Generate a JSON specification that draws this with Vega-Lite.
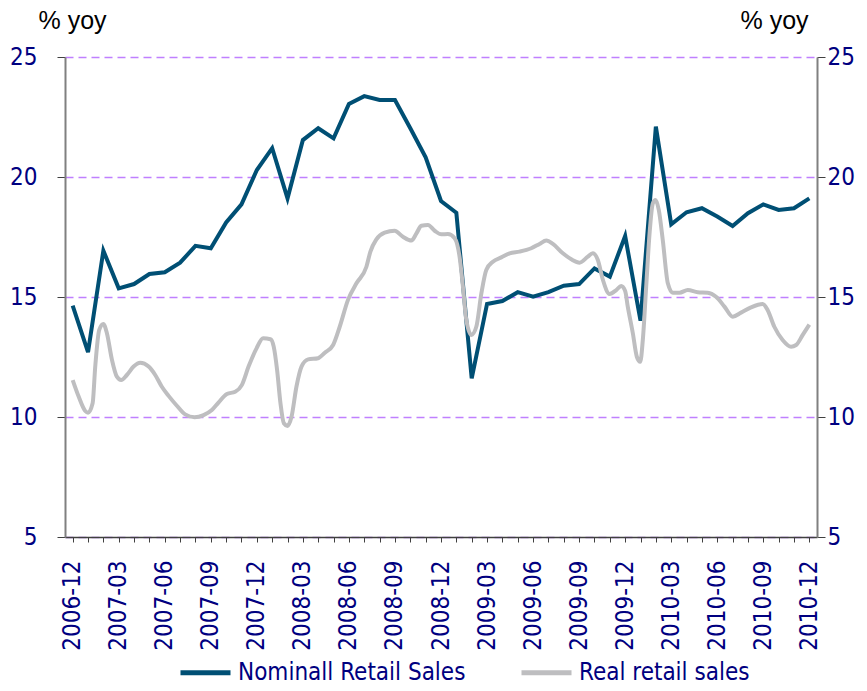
{
  "$schema": "https://vega.github.io/schema/vega-lite/v6.json",
  "width": 752,
  "height": 480,
  "autosize": {"type": "none"},
  "padding": {"left": 65, "top": 57, "right": 50, "bottom": 154},
  "background": "white",
  "config": {
    "view": {"stroke": null},
    "font": "DejaVu Sans Condensed, DejaVu Sans",
    "axis": {"labelFont": "DejaVu Sans Condensed, DejaVu Sans", "titleFont": "Liberation Sans", "gridColor": "#C080FF"},
    "axisY": {"gridColor": "#C080FF", "gridDash": [8, 5], "gridOpacity": 1}
  },
  "datasets": {
    "nominal": [
      {"i": 0, "value": 14.64}, {"i": 1, "value": 12.70}, {"i": 2, "value": 16.93}, {"i": 3, "value": 15.36},
      {"i": 4, "value": 15.54}, {"i": 5, "value": 15.96}, {"i": 6, "value": 16.03}, {"i": 7, "value": 16.43},
      {"i": 8, "value": 17.13}, {"i": 9, "value": 17.03}, {"i": 10, "value": 18.11}, {"i": 11, "value": 18.86},
      {"i": 12, "value": 20.29}, {"i": 13, "value": 21.20}, {"i": 14, "value": 19.11}, {"i": 15, "value": 21.54},
      {"i": 16, "value": 22.03}, {"i": 17, "value": 21.61}, {"i": 18, "value": 23.04}, {"i": 19, "value": 23.37},
      {"i": 20, "value": 23.21}, {"i": 21, "value": 23.21}, {"i": 22, "value": 22.03}, {"i": 23, "value": 20.82},
      {"i": 24, "value": 19.0}, {"i": 25, "value": 18.51}, {"i": 26, "value": 11.61}, {"i": 27, "value": 14.71},
      {"i": 28, "value": 14.83}, {"i": 29, "value": 15.20}, {"i": 30, "value": 15.01}, {"i": 31, "value": 15.20},
      {"i": 32, "value": 15.47}, {"i": 33, "value": 15.54}, {"i": 34, "value": 16.19}, {"i": 35, "value": 15.85},
      {"i": 36, "value": 17.54}, {"i": 37, "value": 14.01}, {"i": 38, "value": 22.10}, {"i": 39, "value": 18.03},
      {"i": 40, "value": 18.53}, {"i": 41, "value": 18.70}, {"i": 42, "value": 18.35}, {"i": 43, "value": 17.96},
      {"i": 44, "value": 18.49}, {"i": 45, "value": 18.86}, {"i": 46, "value": 18.63}, {"i": 47, "value": 18.70},
      {"i": 48, "value": 19.11}
    ],
    "real": [
      {"i": 0, "value": 11.54}, {"i": 0.39, "value": 10.85}, {"i": 0.82, "value": 10.25}, {"i": 1.0, "value": 10.18},
      {"i": 1.3, "value": 10.57}, {"i": 1.47, "value": 12.10}, {"i": 1.73, "value": 13.63}, {"i": 2.0, "value": 13.88},
      {"i": 2.23, "value": 13.49}, {"i": 2.56, "value": 12.38}, {"i": 2.88, "value": 11.68}, {"i": 3.16, "value": 11.54},
      {"i": 3.53, "value": 11.75}, {"i": 3.97, "value": 12.10}, {"i": 4.40, "value": 12.26}, {"i": 4.95, "value": 12.10},
      {"i": 5.38, "value": 11.75}, {"i": 5.81, "value": 11.26}, {"i": 6.25, "value": 10.88}, {"i": 6.79, "value": 10.47},
      {"i": 7.33, "value": 10.11}, {"i": 7.94, "value": 9.99}, {"i": 8.53, "value": 10.08}, {"i": 9.07, "value": 10.29},
      {"i": 9.50, "value": 10.60}, {"i": 10.05, "value": 10.96}, {"i": 10.59, "value": 11.05}, {"i": 11.02, "value": 11.33},
      {"i": 11.46, "value": 12.10}, {"i": 11.98, "value": 12.86}, {"i": 12.41, "value": 13.28}, {"i": 12.89, "value": 13.24},
      {"i": 13.1, "value": 12.93}, {"i": 13.32, "value": 11.96}, {"i": 13.54, "value": 10.57}, {"i": 13.76, "value": 9.74},
      {"i": 14.0, "value": 9.63}, {"i": 14.26, "value": 10.01}, {"i": 14.58, "value": 11.26}, {"i": 14.91, "value": 12.10},
      {"i": 15.34, "value": 12.40}, {"i": 15.99, "value": 12.45}, {"i": 16.43, "value": 12.68}, {"i": 16.97, "value": 13.0},
      {"i": 17.40, "value": 13.76}, {"i": 17.94, "value": 14.88}, {"i": 18.49, "value": 15.57}, {"i": 19.14, "value": 16.26},
      {"i": 19.40, "value": 16.89}, {"i": 19.79, "value": 17.40}, {"i": 20.33, "value": 17.68}, {"i": 20.98, "value": 17.76},
      {"i": 21.52, "value": 17.51}, {"i": 22.07, "value": 17.35}, {"i": 22.40, "value": 17.65}, {"i": 22.72, "value": 17.97},
      {"i": 23.15, "value": 18.0}, {"i": 23.59, "value": 17.76}, {"i": 24.02, "value": 17.61}, {"i": 24.45, "value": 17.62},
      {"i": 24.89, "value": 17.45}, {"i": 25.21, "value": 16.68}, {"i": 25.43, "value": 15.43}, {"i": 25.65, "value": 14.04},
      {"i": 25.98, "value": 13.42}, {"i": 26.30, "value": 13.76}, {"i": 26.63, "value": 15.15}, {"i": 26.95, "value": 16.13},
      {"i": 27.38, "value": 16.47}, {"i": 27.93, "value": 16.65}, {"i": 28.47, "value": 16.82}, {"i": 29.12, "value": 16.89},
      {"i": 29.88, "value": 17.03}, {"i": 30.42, "value": 17.21}, {"i": 30.86, "value": 17.35}, {"i": 31.29, "value": 17.21},
      {"i": 31.94, "value": 16.82}, {"i": 32.49, "value": 16.57}, {"i": 33.03, "value": 16.43}, {"i": 33.57, "value": 16.68},
      {"i": 33.89, "value": 16.82}, {"i": 34.22, "value": 16.54}, {"i": 34.55, "value": 15.71}, {"i": 34.98, "value": 15.13},
      {"i": 35.42, "value": 15.29}, {"i": 35.74, "value": 15.46}, {"i": 36.0, "value": 15.25}, {"i": 36.17, "value": 14.60},
      {"i": 36.50, "value": 13.49}, {"i": 36.76, "value": 12.51}, {"i": 36.98, "value": 12.30}, {"i": 37.15, "value": 13.21},
      {"i": 37.37, "value": 15.43}, {"i": 37.59, "value": 17.65}, {"i": 37.80, "value": 18.90}, {"i": 37.98, "value": 19.04},
      {"i": 38.19, "value": 18.63}, {"i": 38.45, "value": 17.38}, {"i": 38.78, "value": 15.57}, {"i": 39.10, "value": 15.18},
      {"i": 39.54, "value": 15.18}, {"i": 40.08, "value": 15.29}, {"i": 40.73, "value": 15.20}, {"i": 41.38, "value": 15.18},
      {"i": 41.92, "value": 15.01}, {"i": 42.47, "value": 14.60}, {"i": 43.01, "value": 14.18}, {"i": 43.55, "value": 14.35},
      {"i": 44.20, "value": 14.57}, {"i": 44.96, "value": 14.71}, {"i": 45.28, "value": 14.46}, {"i": 45.72, "value": 13.76},
      {"i": 46.26, "value": 13.21}, {"i": 46.81, "value": 12.93}, {"i": 47.14, "value": 13.0}, {"i": 47.57, "value": 13.42},
      {"i": 48.0, "value": 13.85}
    ]
  },
  "encoding": {
    "x": {
      "field": "i",
      "type": "quantitative",
      "scale": {"domain": [-0.5, 48.5], "nice": false, "zero": false},
      "axis": {
        "title": null,
        "values": [0,1,2,3,4,5,6,7,8,9,10,11,12,13,14,15,16,17,18,19,20,21,22,23,24,25,26,27,28,29,30,31,32,33,34,35,36,37,38,39,40,41,42,43,44,45,46,47,48],
        "labelExpr": "datum.value % 3 == 0 ? (2006 + floor((datum.value + 11) / 12)) + '-' + ((datum.value + 11) % 12 + 1 < 10 ? '0' : '') + ((datum.value + 11) % 12 + 1) : ''",
        "labelAngle": -90,
        "labelAlign": "right",
        "labelBaseline": "middle",
        "labelOverlap": false,
        "labelFlush": false,
        "labelFontSize": 24,
        "labelColor": "#000080",
        "labelPadding": 18,
        "tickSize": 5,
        "tickColor": "#404040",
        "domainColor": "#404040",
        "domainWidth": 1.5,
        "grid": false
      }
    },
    "color": {
      "field": "series",
      "type": "nominal",
      "scale": {"domain": ["Nominall Retail Sales", "Real retail sales"], "range": ["#004F74", "#BEBEC0"]},
      "legend": {
        "title": null,
        "orient": "none",
        "direction": "horizontal",
        "legendX": 113,
        "legendY": 588,
        "symbolType": "stroke",
        "symbolSize": 2500,
        "symbolStrokeWidth": 5,
        "labelFontSize": 24,
        "labelColor": "#000080",
        "labelFont": "DejaVu Sans Condensed, DejaVu Sans",
        "labelOffset": 5,
        "columnPadding": 45,
        "labelLimit": 400
      }
    }
  },
  "layer": [
    {
      "data": {"name": "nominal"},
      "transform": [{"calculate": "'Nominall Retail Sales'", "as": "series"}],
      "mark": {"type": "line", "strokeWidth": 4, "strokeJoin": "miter"},
      "encoding": {
        "y": {
          "field": "value",
          "type": "quantitative",
          "scale": {"domain": [5, 25], "nice": false, "zero": false},
          "axis": {
            "orient": "left",
            "values": [5, 10, 15, 20, 25],
            "title": "% yoy",
            "titleAngle": 0,
            "titleX": -27,
            "titleY": -29,
            "titleAlign": "left",
            "titleBaseline": "alphabetic",
            "titleFontSize": 25,
            "titleFontWeight": "normal",
            "titleColor": "#000000",
            "labelFontSize": 24,
            "labelColor": "#000080",
            "labelPadding": 20,
            "tickSize": 8,
            "tickColor": "#404040",
            "domainColor": "#808080",
            "domainWidth": 2,
            "grid": true,
            "gridColor": "#C080FF",
            "gridDash": [8, 5],
            "gridWidth": 1.3
          }
        }
      }
    },
    {
      "data": {"name": "real"},
      "transform": [{"calculate": "'Real retail sales'", "as": "series"}],
      "mark": {"type": "line", "strokeWidth": 4, "interpolate": "monotone"},
      "encoding": {
        "y": {
          "field": "value",
          "type": "quantitative",
          "axis": {
            "orient": "right",
            "values": [5, 10, 15, 20, 25],
            "title": "% yoy",
            "titleAngle": 0,
            "titleX": -77,
            "titleY": -29,
            "titleAlign": "left",
            "titleBaseline": "alphabetic",
            "titleFontSize": 25,
            "titleFontWeight": "normal",
            "titleColor": "#000000",
            "labelFontSize": 24,
            "labelColor": "#000080",
            "labelPadding": 2,
            "tickSize": 8,
            "tickColor": "#404040",
            "domainColor": "#808080",
            "domainWidth": 2,
            "grid": false
          }
        }
      }
    }
  ],
  "resolve": {"axis": {"y": "independent"}}
}
